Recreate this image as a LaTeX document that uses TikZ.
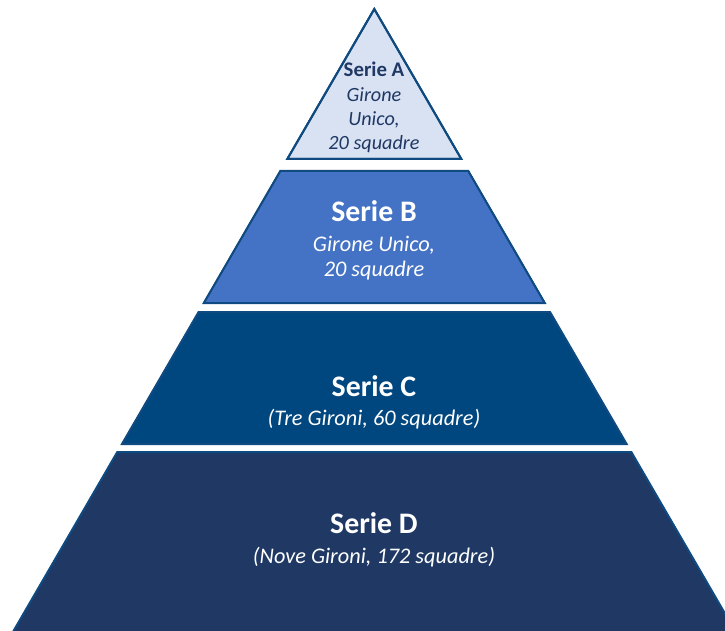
\documentclass[tikz,border=0pt]{standalone}
\usepackage{fontspec}
\setmainfont{Carlito}
\definecolor{edgeblue}{HTML}{0F4A80}
\definecolor{fillA}{HTML}{D9E2F3}
\definecolor{fillB}{HTML}{4472C4}
\definecolor{fillC}{HTML}{00467F}
\definecolor{fillD}{HTML}{1F3864}
\definecolor{textA}{HTML}{1F3864}
\begin{document}
\begin{tikzpicture}[x=1pt,y=-1pt,
  layer/.style={draw=edgeblue,line width=2pt,line join=miter},
  ttl/.style={anchor=base,inner sep=0pt,font=\bfseries\fontsize{29.8}{32}\selectfont,text=white},
  sub/.style={anchor=base,inner sep=0pt,font=\itshape\fontsize{22.3}{26}\selectfont,text=white},
  ttlA/.style={anchor=base,inner sep=0pt,font=\bfseries\fontsize{20.8}{24}\selectfont,text=textA},
  subA/.style={anchor=base,inner sep=0pt,font=\itshape\fontsize{20.2}{24}\selectfont,text=textA}]
\useasboundingbox (0,0) rectangle (725,631);
\clip (0,0) rectangle (725,631);
% layers: x(y) = 374.3 -/+ 0.58*(y-9)
\fill[layer,fill=fillA] (374.3,9) -- (461.3,159) -- (287.3,159) -- cycle;
\fill[layer,fill=fillB] (280.3,171) -- (468.3,171) -- (544.8,303) -- (203.8,303) -- cycle;
\fill[layer,fill=fillC] (198.6,312) -- (550.0,312) -- (626.6,444) -- (122.0,444) -- cycle;
\fill[layer,fill=fillD] (117.3,452) -- (631.3,452) -- (738.0,636) -- (10.6,636) -- cycle;
\draw[draw=edgeblue,line width=2pt] (374.3,9) -- (461.3,159) -- (287.3,159) -- cycle;
\draw[draw=edgeblue,line width=1.5pt] (280.3,171) -- (203.8,303) (468.3,171) -- (544.8,303);
\draw[draw=edgeblue,line width=1pt] (198.6,312) -- (122.0,444) (550.0,312) -- (626.6,444);
\draw[draw=edgeblue,line width=1pt] (117.3,452) -- (10.6,636) (631.3,452) -- (738.0,636);
% texts
\node[ttlA] (a1) at (374,77) {Serie A};
\node[subA] (a2) at (374,101.7) {Girone};
\node[subA] (a3) at (374,125.5) {Unico,};
\node[subA] (a4) at (374,150) {20 squadre};
\node[ttl] (b1) at (374,221) {Serie B};
\node[sub] (b2) at (374,251.7) {Girone Unico,};
\node[sub] (b3) at (374,276) {20 squadre};
\node[ttl] (c1) at (374,396) {Serie C};
\node[sub] (c2) at (374,425) {(Tre Gironi, 60 squadre)};
\node[ttl] (d1) at (374,533.3) {Serie D};
\node[sub] (d2) at (374,563) {(Nove Gironi, 172 squadre)};
\end{tikzpicture}
\end{document}
